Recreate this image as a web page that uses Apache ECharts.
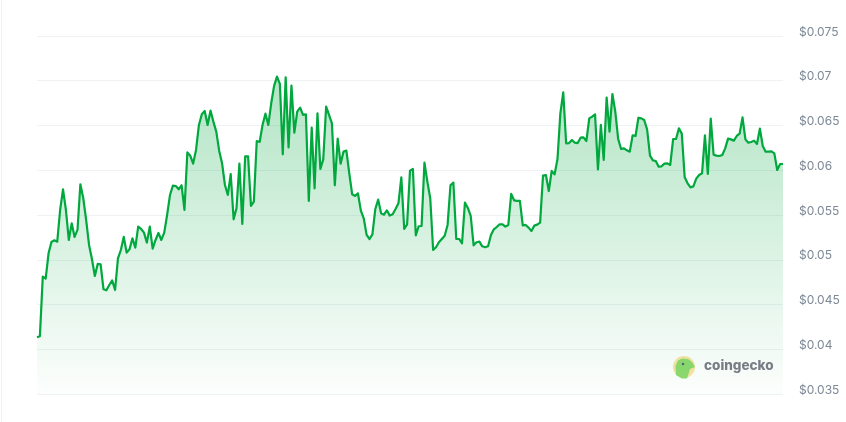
<!DOCTYPE html>
<html><head><meta charset="utf-8">
<style>html,body{margin:0;padding:0;background:#fff}#c{width:846px;height:422px}</style>
<script src="https://cdn.jsdelivr.net/npm/echarts@6/dist/echarts.min.js"></script>
</head><body><div id="c"></div>
<script>
const tickMin = 0.035, tickMax = 0.075, tickStep = 0.005;
const pricesA = [.04134,.04145,.04811,.04789,.05072,.05199,.05217,.05202,.05556,.05787,.05556,.05221,.05407,.05255,.05333,.05843,.05687,.05444,.05165,.05009,.04819,.04953,.04949,.04670,.04659,.04718,.04770,.04662,.05016,.05109,.05255,.05080,.05117,.05240,.05135,.05370,.05344,.05303,.05191,.05370,.05124,.05221,.05299,.05221,.05303,.05500,.05724,.05828,.05824,.05787,.05832,.05556,.06200,.06163,.06074,.06227,.06506,.06625,.06662,.06506,.06666,.06543,.06431,.06219,.06078,.05835,.05724,.05958,.05452,.05575,.06074,.05400,.06156,.06156,.05601,.05649,.06327,.06316,.06506,.06632,.06506,.06748,.06942,.07046,.06964];
const pricesB = [.06178,.07038,.06256,.06945,.06420,.06655,.06699,.06618,.06625,.05657,.06476,.05798,.06636,.06014,.06122,.06711,.06618,.06524,.05832,.06353,.06074,.06208,.06219,.05966,.05731,.05713,.05742,.05549,.05463,.05277,.05232,.05284,.05567,.05672,.05519,.05504,.05552,.05493,.05508,.05567,.05631,.05921,.05344,.05396,.05996,.06014,.05273,.05374,.05377,.06085,.05873,.05687,.05109,.05139,.05195,.05232,.05269,.05389,.05832,.05862,.05232,.05232,.05184,.05638,.05579,.05489,.05161,.05195,.05202,.05150,.05139,.05150,.05277,.05340,.05366,.05396,.05396,.05370,.05389,.05735,.05664,.05657,.05657,.05385,.05389,.05359,.05322,.05381,.05392,.05415,.05940,.05947,.05768];
const pricesC = [.05992,.05954,.06122,.06636,.06870,.06301,.06304,.06338,.06308,.06304,.06364,.06368,.06327,.06580,.06599,.06625,.06010,.06506,.06115,.06811,.06431,.06852,.06654,.06349,.06237,.06245,.06223,.06208,.06390,.06383,.06587,.06580,.06561,.06457,.06163,.06111,.06103,.06040,.06044,.06074,.06077,.06059,.06349,.06349,.06468,.06409,.05921,.05854,.05809,.05820,.05906,.05947,.05966,.06390,.05958,.06576,.06174,.06163,.06159,.06170,.06245,.06353,.06345,.06331,.06383,.06409,.06591,.06345,.06308,.06316,.06331,.06293,.06465,.06271,.06208,.06208,.06211,.06189,.06003,.06070,.06070];
const prices = pricesA.concat(pricesB, pricesC);
const categories = prices.map((_, i) => i);
const brandName = 'coingecko';

const chart = echarts.init(document.getElementById('c'), null, {renderer:'canvas'});
chart.setOption({
  animation:false,
  backgroundColor:'#fff',
  grid:{left:37,right:63,top:36,bottom:28,containLabel:false},
  xAxis:{type:'category',data:categories,boundaryGap:false,show:false},
  yAxis:{type:'value',position:'right',min:tickMin,max:tickMax,interval:tickStep,
    axisLine:{show:false},axisTick:{show:false},
    splitLine:{show:true,lineStyle:{color:'#eff2f5',width:1}},
    axisLabel:{color:'#7c8896',fontFamily:'Inter',fontSize:12,margin:16,align:'left',
      verticalAlign:'bottom',lineHeight:8,formatter:v=>'$'+(+v.toFixed(3))}},
  series:[{type:'line',data:prices,symbol:'none',smooth:false,
    lineStyle:{color:'#00a83e',width:2.2,join:'round'},
    areaStyle:{opacity:1,color:new echarts.graphic.LinearGradient(0,0,0,1,[
      {offset:0,color:'rgba(0,168,62,0.30)'},{offset:1,color:'rgba(0,168,62,0.01)'}])}}],
  graphic:[
    {type:'rect',shape:{x:1,y:0,width:1,height:422},style:{fill:'#eff2f5'},silent:true},
    {type:'circle',shape:{cx:684,cy:367,r:11},style:{fill:'#fbe3a2'},silent:true},
    {type:'polygon',shape:{points:[[676,375],[675.5,366],[678,360.5],[682,358.5],[688,359],[692,362],[695,367],[690,369],[688.5,374],[687,378.5],[682,378.5]]},style:{fill:'#8dd96f'},silent:true},
    {type:'circle',shape:{cx:683,cy:364,r:1.3},style:{fill:'#5f6070'},silent:true},
    {type:'text',x:704,y:366,style:{text:brandName,fill:'#7d7b88',font:'800 13.5px Inter',textVerticalAlign:'middle'},silent:true}
  ]
});
</script></body></html>
